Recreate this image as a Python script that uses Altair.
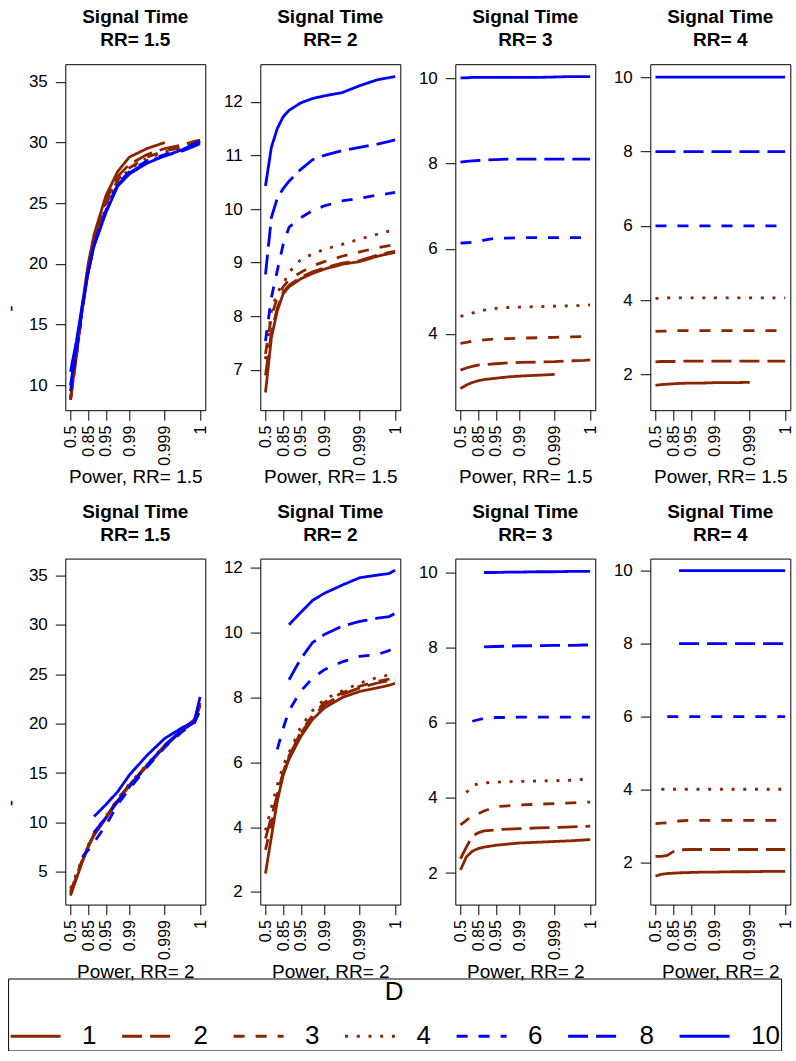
import altair as alt
import pandas as pd

# ---------------- data ----------------
X_IDX = [0, 1, 2, 3, 4, 6, 8, 10, 13, 16, 19, 21, 22]          # position index of power levels
TICK_POS = [0, 3, 6, 10, 16, 22]
TICK_LABELS = ["0.5", "0.85", "0.95", "0.99", "0.999", "1"]
D_LEVELS = ["1", "2", "3", "4", "6", "8", "10"]
D_COLORS = ["#8B2500", "#8B2500", "#8B2500", "#8B2500", "#0000FF", "#0000FF", "#0000FF"]
D_DASHES = [[1, 0], [20, 8], [11, 11], [3, 8.7], [11, 11], [20, 8], [1, 0]]
PANEL_RR = ["1.5", "2", "3", "4"]
ROW_POWER_RR = ["1.5", "2"]
N = None

# row 1 : Power, RR= 1.5   (series order D = 1,2,3,4,6,8,10)
r1_rr15 = [
    [8.8, 12.6, 16.6, 20.0, 22.4, 25.6, 27.6, 28.8, 29.5, 30.0, N, N, N],
    [8.8, 12.4, 16.4, 19.8, 22.1, 25.2, 27.2, 28.2, 29.0, 29.5, 29.8, 30.1, 30.2],
    [8.8, 12.3, 16.2, 19.6, 21.9, 24.9, 26.9, 27.9, 28.8, 29.3, 29.6, 29.9, 30.0],
    [8.9, 12.3, 16.2, 19.5, 21.8, 24.7, 26.8, 27.8, 28.7, 29.2, 29.6, 29.8, 29.9],
    [9.5, 12.8, 16.2, 19.4, 21.6, 24.4, 26.6, 27.6, 28.5, 29.0, 29.4, 29.7, 29.8],
    [10.0, 13.1, 16.3, 19.3, 21.5, 24.3, 26.5, 27.5, 28.4, 28.9, 29.3, 29.7, 29.9],
    [11.1, 13.6, 16.6, 19.3, 21.5, 24.2, 26.4, 27.4, 28.3, 28.9, 29.4, 29.9, 30.1],
]
r1_rr2 = [
    [6.58, 7.6, 8.1, 8.42, 8.55, 8.7, 8.8, 8.88, 8.97, 9.02, 9.12, 9.17, 9.19],
    [6.9, 7.7, 8.15, 8.45, 8.58, 8.73, 8.83, 8.9, 8.99, 9.04, 9.14, 9.19, 9.21],
    [7.3, 8.0, 8.35, 8.55, 8.68, 8.82, 8.94, 9.02, 9.12, 9.2, 9.28, 9.32, 9.34],
    [7.2, 8.1, 8.45, 8.6, 8.82, 9.06, 9.16, 9.25, 9.34, 9.44, 9.53, 9.59, 9.62],
    [7.54, 8.35, 8.85, 9.34, 9.66, 9.84, 9.97, 10.06, 10.15, 10.2, 10.26, 10.29, 10.31],
    [8.78, 9.84, 10.2, 10.38, 10.52, 10.74, 10.92, 11.0, 11.09, 11.15, 11.21, 11.26, 11.29],
    [10.43, 11.15, 11.5, 11.72, 11.84, 11.98, 12.06, 12.11, 12.17, 12.3, 12.41, 12.45, 12.47],
]
r1_rr3 = [
    [2.72, 2.8, 2.86, 2.9, 2.93, 2.96, 2.99, 3.01, 3.03, 3.05, N, N, N],
    [3.15, 3.2, 3.24, 3.27, 3.28, 3.3, 3.32, 3.33, 3.34, 3.35, 3.37, 3.38, 3.39],
    [3.78, 3.8, 3.83, 3.85, 3.86, 3.88, 3.89, 3.9, 3.91, 3.92, 3.93, 3.94, 3.95],
    [4.41, 4.45, 4.49, 4.53, 4.56, 4.6, 4.62, 4.63, 4.64, 4.65, 4.66, 4.67, 4.68],
    [6.13, 6.14, 6.15, 6.16, 6.2, 6.25, 6.25, 6.26, 6.26, 6.26, 6.26, 6.26, 6.26],
    [8.03, 8.05, 8.06, 8.07, 8.08, 8.09, 8.1, 8.1, 8.1, 8.1, 8.1, 8.1, 8.1],
    [10.01, 10.01, 10.02, 10.02, 10.02, 10.02, 10.02, 10.02, 10.02, 10.03, 10.04, 10.04, 10.04],
]
r1_rr4 = [
    [1.71, 1.73, 1.74, 1.75, 1.76, 1.77, 1.77, 1.78, 1.78, 1.79, N, N, N],
    [2.34, 2.35, 2.35, 2.35, 2.36, 2.36, 2.36, 2.36, 2.36, 2.36, 2.36, 2.36, 2.36],
    [3.16, 3.17, 3.17, 3.18, 3.18, 3.18, 3.18, 3.18, 3.18, 3.18, 3.18, 3.18, 3.18],
    [4.05, 4.05, 4.06, 4.06, 4.06, 4.06, 4.06, 4.06, 4.06, 4.06, 4.06, 4.06, 4.06],
    [6.0, 6.0, 6.0, 6.0, 6.0, 6.0, 6.0, 6.0, 6.0, 6.0, 6.0, 6.0, 6.0],
    [8.0, 8.0, 8.0, 8.0, 8.0, 8.0, 8.0, 8.0, 8.0, 8.0, 8.0, 8.0, 8.0],
    [10.0, 10.0, 10.0, 10.0, 10.0, 10.0, 10.0, 10.0, 10.0, 10.0, 10.0, 10.0, 10.0],
]
# row 2 : Power, RR= 2
r2_rr15 = [
    [2.6, 4.3, 6.0, 7.5, 8.7, 10.4, 12.2, 13.7, 15.7, 17.7, 19.3, 20.3, 22.1],
    [2.8, 4.5, 6.1, 7.6, 8.8, 10.5, 12.3, 13.8, 15.8, 17.8, 19.4, 20.4, 22.0],
    [3.0, 4.6, 6.2, 7.6, 8.8, 10.5, 12.3, 13.8, 15.8, 17.7, 19.3, 20.2, 21.8],
    [3.3, 4.8, 6.3, 7.7, 8.9, 10.6, 12.4, 13.9, 15.9, 17.8, 19.4, 20.3, 21.9],
    [N, N, 6.5, 7.2, 8.0, 9.7, 11.8, 13.4, 15.6, 17.6, 19.2, 20.0, 21.5],
    [N, N, N, N, 9.0, 10.5, 12.1, 13.6, 15.8, 17.8, 19.4, 20.1, 21.3],
    [N, N, N, N, 10.6, 11.8, 13.1, 14.8, 16.8, 18.5, 19.6, 20.2, 22.7],
]
r2_rr2 = [
    [2.57, 3.7, 4.8, 5.6, 6.1, 6.8, 7.33, 7.68, 8.0, 8.19, 8.3, 8.38, 8.44],
    [3.65, 4.3, 5.0, 5.7, 6.2, 6.9, 7.4, 7.78, 8.1, 8.3, 8.45, 8.52, 8.55],
    [3.3, 4.1, 4.9, 5.65, 6.15, 6.95, 7.45, 7.85, 8.15, 8.35, 8.5, 8.57, 8.6],
    [3.9, 4.6, 5.3, 5.9, 6.3, 7.1, 7.6, 7.95, 8.2, 8.45, 8.62, 8.7, 8.72],
    [N, N, 6.4, 7.05, 7.6, 8.2, 8.6, 8.86, 9.1, 9.27, 9.33, 9.45, 9.7],
    [N, N, N, N, 8.55, 9.2, 9.7, 9.95, 10.2, 10.35, 10.45, 10.5, 10.6],
    [N, N, N, N, 10.25, 10.63, 11.0, 11.22, 11.47, 11.7, 11.78, 11.83, 11.93],
]
r2_rr3 = [
    [2.08, 2.43, 2.58, 2.65, 2.69, 2.74, 2.77, 2.8, 2.82, 2.84, 2.86, 2.88, 2.89],
    [2.38, 2.69, 2.98, 3.07, 3.12, 3.15, 3.17, 3.18, 3.2, 3.21, 3.23, 3.24, 3.25],
    [3.28, 3.4, 3.54, 3.58, 3.65, 3.77, 3.79, 3.81, 3.83, 3.85, 3.87, 3.88, 3.89],
    [N, 4.14, 4.32, 4.38, 4.4, 4.42, 4.43, 4.44, 4.45, 4.46, 4.47, 4.5, 4.6],
    [N, N, 6.04, 6.08, 6.12, 6.14, 6.14, 6.15, 6.15, 6.15, 6.15, 6.15, 6.15],
    [N, N, N, N, 8.02, 8.03, 8.04, 8.05, 8.05, 8.06, 8.06, 8.07, 8.07],
    [N, N, N, N, 10.0, 10.0, 10.01, 10.01, 10.02, 10.02, 10.03, 10.03, 10.03],
]
r2_rr4 = [
    [1.63, 1.68, 1.7, 1.71, 1.72, 1.73, 1.74, 1.74, 1.75, 1.75, 1.76, 1.76, 1.76],
    [2.17, 2.17, 2.2, 2.3, 2.35, 2.36, 2.36, 2.36, 2.36, 2.36, 2.36, 2.36, 2.36],
    [3.07, 3.08, 3.09, 3.11, 3.14, 3.16, 3.16, 3.16, 3.16, 3.16, 3.16, 3.16, 3.16],
    [N, 4.01, 4.01, 4.01, 4.01, 4.01, 4.01, 4.01, 4.01, 4.01, 4.01, 4.01, 4.01],
    [N, N, 6.0, 6.0, 6.0, 6.0, 6.0, 6.0, 6.0, 6.0, 6.0, 6.0, 6.0],
    [N, N, N, N, 8.0, 8.0, 8.0, 8.0, 8.0, 8.0, 8.0, 8.0, 8.0],
    [N, N, N, N, 10.0, 10.0, 10.0, 10.0, 10.0, 10.0, 10.0, 10.0, 10.0],
]

PANELS = [[r1_rr15, r1_rr2, r1_rr3, r1_rr4], [r2_rr15, r2_rr2, r2_rr3, r2_rr4]]
Y_DOMAINS = [
    [[7.94, 36.45], [6.25, 12.70], [2.21, 10.33], [1.04, 10.35]],
    [[1.69, 36.69], [1.61, 12.29], [1.16, 10.37], [0.85, 10.33]],
]
Y_TICKS = [
    [[10, 15, 20, 25, 30, 35], [7, 8, 9, 10, 11, 12], [4, 6, 8, 10], [2, 4, 6, 8, 10]],
    [[5, 10, 15, 20, 25, 30, 35], [2, 4, 6, 8, 10, 12], [2, 4, 6, 8, 10], [2, 4, 6, 8, 10]],
]

# ---------------- layout constants ----------------
PW, PH = 140, 346
FONT = "Liberation Sans"

label_expr = " : ".join(
    f"datum.value == {p} ? '{l}'" for p, l in zip(TICK_POS, TICK_LABELS)
) + " : ''"

LEGEND = alt.Legend(
    title="D", orient="none", legendX=-57.2, legendY=914.3,
    direction="horizontal", columns=7, symbolType="stroke", symbolSize=2500,
    symbolStrokeWidth=3, labelFontSize=26, titleFontSize=26, titleFontWeight="normal",
    titleAnchor="middle", labelOffset=20, columnPadding=18.5, padding=1,
    strokeColor="black", titleColor="black", labelColor="black",
    labelFont=FONT, titleFont=FONT, titlePadding=4,
)


def panel(vals, ydom, yticks, rr, prr, first_col):
    rows = []
    for d, series in zip(D_LEVELS, vals):
        for x, y in zip(X_IDX, series):
            if y is not None:
                rows.append({"x": x, "y": y, "D": d})
    df = pd.DataFrame(rows)
    yaxis_kw = dict(values=yticks, labelFontSize=17, tickSize=10, labelPadding=8,
                    domain=False, grid=False, labelOverlap=False, labelFlush=False,
                    tickColor="black", labelColor="black")
    if first_col:
        yaxis_kw.update(title="-", titleAngle=270, titleFontSize=19, titleFontWeight="normal",
                        titleX=-63.7, titleY=244, titleBaseline="top", titleColor="black")
    else:
        yaxis_kw.update(title=None)
    return alt.Chart(df).mark_line(strokeWidth=2.8, clip=True, strokeCap="butt").encode(
        x=alt.X("x:Q",
                scale=alt.Scale(domain=[-0.88, 22.88], nice=False, zero=False),
                axis=alt.Axis(values=TICK_POS, labelExpr=label_expr, title=f"Power, RR= {prr}",
                              labelAngle=270, labelAlign="right", labelBaseline="middle",
                              labelFontSize=16, tickSize=10, labelPadding=5, domain=False,
                              grid=False, labelOverlap=False, labelFlush=False,
                              titleFontSize=19, titleFontWeight="normal", titleColor="black",
                              titleX=PW / 2, titleY=72.7, titleBaseline="alphabetic",
                              tickColor="black", labelColor="black")),
        y=alt.Y("y:Q", scale=alt.Scale(domain=ydom, nice=False, zero=False),
                axis=alt.Axis(**yaxis_kw)),
        color=alt.Color("D:N", scale=alt.Scale(domain=D_LEVELS, range=D_COLORS), legend=LEGEND),
        strokeDash=alt.StrokeDash("D:N", scale=alt.Scale(domain=D_LEVELS, range=D_DASHES),
                                  legend=LEGEND),
    ).properties(
        width=PW, height=PH,
        title=alt.TitleParams(text=["Signal Time", f"RR= {rr}"], fontSize=19, fontWeight="bold",
                              color="black", anchor="middle", frame="group", lineHeight=23,
                              baseline="alphabetic", offset=-1, font=FONT),
    )


charts = []
for r in range(2):
    for c in range(4):
        charts.append(panel(PANELS[r][c], Y_DOMAINS[r][c], Y_TICKS[r][c], PANEL_RR[c],
                            ROW_POWER_RR[r], c == 0))

chart = alt.concat(*charts, columns=4, spacing={"row": 148.4, "column": 55},
                   bounds="flush").properties(
    padding={"left": 0.3, "top": 7.2, "right": 0, "bottom": 0}
).configure(font=FONT).configure_view(stroke="black", strokeWidth=1)

chart.save("out.html", embed_options={"renderer": "svg", "actions": False})
